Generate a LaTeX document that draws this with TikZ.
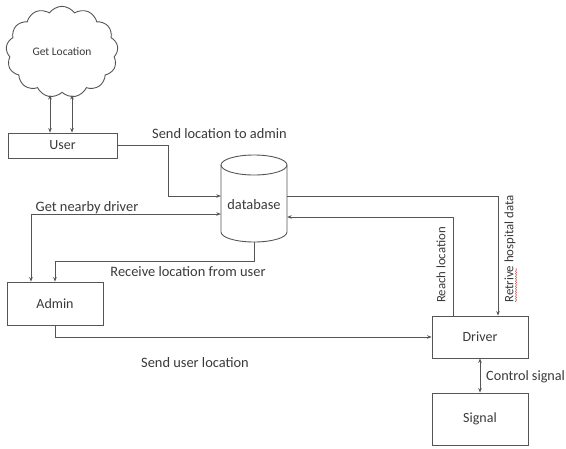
\documentclass[tikz,border=0pt]{standalone}
\usepackage{fontspec}
\setmainfont{Carlito}
\usetikzlibrary{shapes.symbols,arrows.meta,decorations.pathmorphing}
\definecolor{txt}{HTML}{3A3A3A}
\definecolor{edge}{HTML}{555555}
\definecolor{squig}{HTML}{D04040}

\begin{document}
\begin{tikzpicture}[x=1pt,y=-1pt,
  box/.style={draw=edge,line width=0.9pt,rectangle,inner sep=0pt,text=txt,
    font=\fontsize{14}{16}\selectfont},
  flow/.style={draw=edge,line width=0.8pt},
  tip/.style={-{Stealth[length=4.5pt,width=3.6pt]}},
  both/.style={{Stealth[length=4.5pt,width=3.6pt]}-{Stealth[length=4.5pt,width=3.6pt]}},
  lbl/.style={text=txt,inner sep=0pt,font=\fontsize{14.4}{16}\selectfont},
  vlbl/.style={text=txt,inner sep=0pt,rotate=90,font=\fontsize{12.8}{14}\selectfont}]
\useasboundingbox[fill=white] (0,0) rectangle (566,448);

% cloud and boxes
\node[cloud,draw=edge,line width=0.9pt,cloud puffs=13,cloud puff arc=110,
  minimum width=112pt,minimum height=88pt,inner sep=0pt,text=txt,
  font=\fontsize{11.5}{13}\selectfont] (cloud) at (62,52) {Get Location};
\node[box,minimum width=109pt,minimum height=25pt] (user) at (62.5,145.5) {User};
\node[box,minimum width=96pt,minimum height=43pt] (admin) at (55,303.5) {Admin};
\node[box,minimum width=96pt,minimum height=42pt] (driver) at (480,337) {Driver};
\node[box,minimum width=96pt,minimum height=52pt] (signal) at (480,419) {Signal};

% database cylinder
\node[minimum width=66pt,minimum height=87pt,inner sep=0pt] (db) at (254,198.5) {};
\draw[edge,line width=0.9pt] (221,165) -- (221,232) arc[start angle=180,end angle=360,x radius=33pt,y radius=10pt]
  -- (287,165);
\draw[edge,line width=0.9pt] (254,165) ellipse[x radius=33pt,y radius=10pt];
\node[lbl] (dbtext) at (254,205) {database};

% points where the arrows meet the cloud
\coordinate (c1) at (50,95);
\coordinate (c2) at (72,95);

% connectors
\draw[flow,both] (c1) -- (c1 |- user.north);
\draw[flow,both] (c2) -- (c2 |- user.north);
\draw[flow,tip] (user.east) -| (168,196) -- (db.west |- 168,196);
\draw[flow,both] (db.west |- 0,214) -| (admin.north -| 31,0);
\draw[flow,tip] (db.south) |- (55,261) -- (admin.north -| 55,0);
\draw[flow,tip] (admin.south) |- (driver.west);
\draw[flow,tip] (db.east |- 0,196) -| (driver.north -| 498,0);
\draw[flow,tip] (driver.north -| 453,0) |- (db.east |- 0,217);
\draw[flow,both] (driver.south) -- (signal.north);

% labels
\node[lbl] (l1) at (219.5,134) {Send location to admin};
\node[lbl] (l2) at (87,208) {Get nearby driver};
\node[lbl] (l3) at (188,272) {Receive location from user};
\node[lbl] (l4) at (195,363) {Send user location};
\node[vlbl] (l5) at (510,249) {Retrive hospital data};
\node[vlbl] (l6) at (441,265) {Reach location};
\node[lbl,anchor=west,font=\fontsize{14.2}{16}\selectfont] (l7) at (486,377) {Control signal};
\draw[squig,line width=0.5pt,decorate,decoration={snake,amplitude=0.6pt,segment length=2.5pt}]
  (516,302) -- (516,268);
\end{tikzpicture}
\end{document}
